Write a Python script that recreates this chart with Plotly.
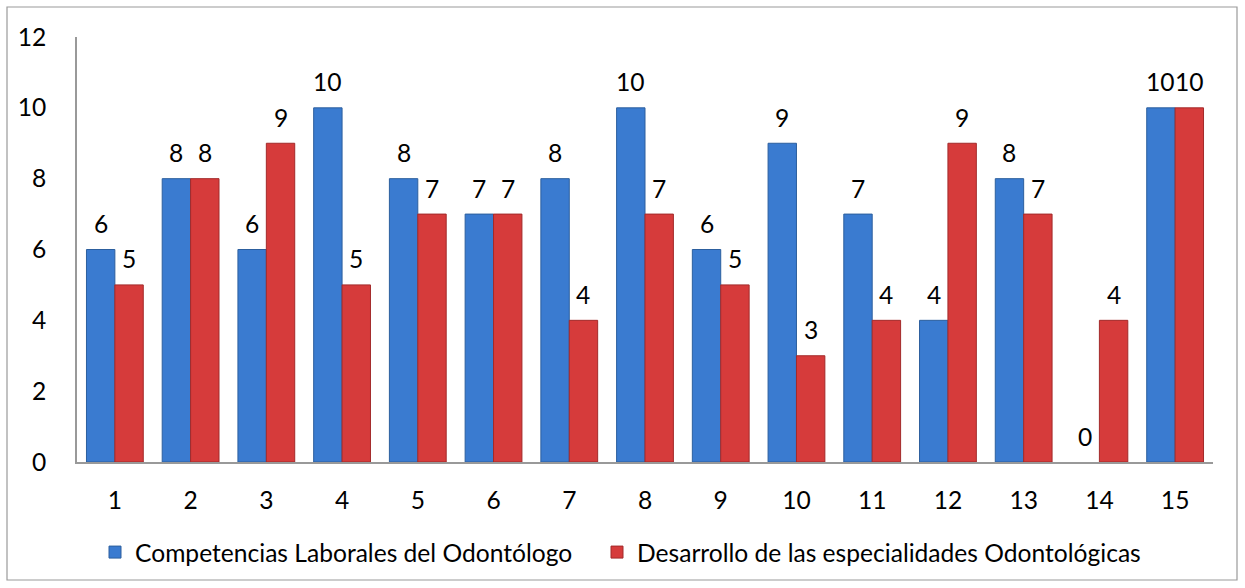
import plotly.graph_objects as go

categories = list(range(1, 16))
competencias = [6, 8, 6, 10, 8, 7, 8, 10, 6, 9, 7, 4, 8, 0, 10]
desarrollo = [5, 8, 9, 5, 7, 7, 4, 7, 5, 3, 4, 9, 7, 4, 10]
series_names = ["Competencias Laborales del Odontólogo",
                "Desarrollo de las especialidades Odontológicas"]
y_ticks = [0, 2, 4, 6, 8, 10, 12]

FONT = "Lato"
FS = 24.6
BLUE = "#3a7bd0"
BLUE_EDGE = "#2c5f9e"
RED = "#d63b3b"
RED_EDGE = "#a32a2a"

fig = go.Figure()
fig.add_bar(x=categories, y=competencias, name=series_names[0], legend="legend",
            marker=dict(color=BLUE,
                        line=dict(color=BLUE_EDGE,
                                  width=[1 if v > 0 else 0 for v in competencias])))
fig.add_bar(x=categories, y=desarrollo, name=series_names[1], legend="legend2",
            marker=dict(color=RED,
                        line=dict(color=RED_EDGE,
                                  width=[1 if v > 0 else 0 for v in desarrollo])))

half = 0.75 / 4  # half of a single bar width in category units
for c, v in zip(categories, competencias):
    fig.add_annotation(x=c - half, y=v, text=str(v), showarrow=False,
                       yanchor="middle", yshift=26,
                       font=dict(family=FONT, size=FS, color="black"))
for c, v in zip(categories, desarrollo):
    fig.add_annotation(x=c + half, y=v, text=str(v), showarrow=False,
                       yanchor="middle", yshift=26,
                       font=dict(family=FONT, size=FS, color="black"))

# outer chart border
fig.add_shape(type="rect", xref="paper", yref="paper",
              x0=(7 - 77) / 1136, x1=(1237 - 77) / 1136,
              y0=(462 - 580) / 425, y1=(462 - 7) / 425,
              line=dict(color="#9a9a9a", width=1.2), layer="below")

legend_common = dict(orientation="h", xanchor="left", y=-0.212, yanchor="middle",
                     font=dict(family=FONT, size=FS, color="black"),
                     itemwidth=30, bgcolor="rgba(0,0,0,0)")

fig.update_layout(
    width=1245, height=588,
    margin=dict(l=77, r=32, t=37, b=126, autoexpand=False),
    paper_bgcolor="white", plot_bgcolor="white",
    barmode="group", bargap=0.25, bargroupgap=0,
    font=dict(family=FONT, size=FS, color="black"),
    showlegend=True,
    legend=dict(x=(95 - 77) / 1136, **legend_common),
    legend2=dict(x=(597 - 77) / 1136, **legend_common),
)
fig.update_xaxes(range=[0.5, 15.5], tickmode="array", tickvals=categories,
                 ticktext=[str(c) for c in categories],
                 showline=True, linecolor="#999999", linewidth=1.5,
                 showgrid=False, ticks="", ticklabelstandoff=16, zeroline=False,
                 automargin=False)
fig.update_yaxes(range=[0, 12], tickmode="array", tickvals=y_ticks,
                 showline=True, linecolor="#999999", linewidth=1.5,
                 showgrid=False, ticks="", ticklabelstandoff=24, zeroline=False,
                 automargin=False)

fig.write_html("out.html", config={"displayModeBar": False},
               post_script="document.body.style.margin='0';document.body.style.padding='0';")
